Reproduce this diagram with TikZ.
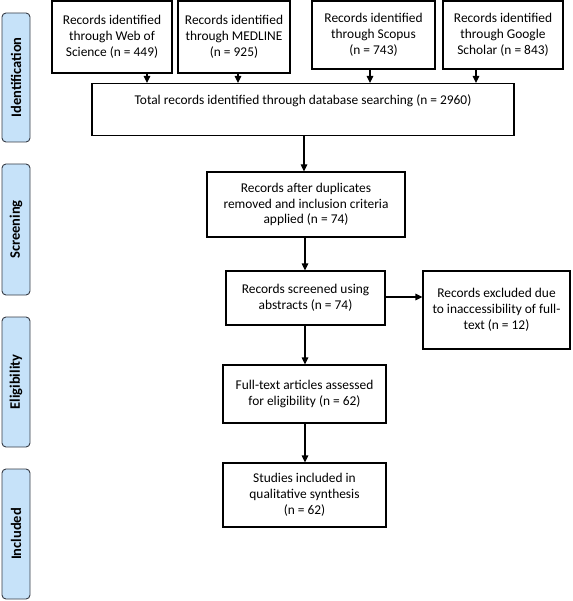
\documentclass[tikz,border=0pt]{standalone}
\usepackage{fontspec}
\setmainfont{Carlito}
\usetikzlibrary{arrows.meta}
\definecolor{phasefill}{RGB}{198,226,249}
\definecolor{phasedraw}{RGB}{55,60,70}
\tikzset{
  box/.style={draw=black, line width=1.2pt, align=center, inner sep=2pt,
    font=\fontsize{13.4pt}{15.8pt}\selectfont},
  phase/.style={draw=phasedraw, fill=phasefill, line width=0.9pt, rounded corners=4pt,
    minimum height=28pt, inner sep=0pt, rotate=90,
    font=\fontsize{14.5pt}{16pt}\selectfont\bfseries},
  arr/.style={line width=1.2pt, -{Triangle[length=7pt,width=6.5pt]}},
}
\begin{document}
\begin{tikzpicture}[x=1pt,y=-1pt]
\useasboundingbox (0,0) rectangle (572,601);
% phase labels
\node[phase, minimum width=129pt] (pid) at (16,77.5) {Identification};
\node[phase, minimum width=131pt] (psc) at (16,229.5) {Screening};
\node[phase, minimum width=130pt] (pel) at (16,382) {Eligibility};
\node[phase, minimum width=130pt] (pin) at (16,534) {Included};
% top boxes
\node[box, minimum width=120pt, minimum height=72pt] (b1) at (112,37) {Records identified\\through Web of\\Science (n = 449)};
\node[box, minimum width=112pt, minimum height=72pt] (b2) at (234,37) {Records identified\\through MEDLINE\\(n = 925)};
\node[box, minimum width=123pt, minimum height=68pt] (b3) at (373.5,35) {Records identified\\through Scopus\\(n = 743)};
\node[box, minimum width=120pt, minimum height=68pt] (b4) at (503,35) {Records identified\\through Google\\Scholar (n = 843)};
% total
\node[box, minimum width=422pt, anchor=north, inner ysep=0pt, text height=21pt, text depth=31pt] (total) at (303,83) {Total records identified through database searching (n = 2960)};
% flow
\node[box, minimum width=198pt, minimum height=65pt] (dup) at (306,204.5) {Records after duplicates\\removed and inclusion criteria\\applied (n = 74)};
\node[box, minimum width=159pt, minimum height=54pt] (scr) at (305.5,298) {Records screened using\\abstracts (n = 74)};
\node[box, minimum width=147pt, minimum height=78pt] (exc) at (496.5,310) {Records excluded due\\to inaccessibility of full-\\text (n = 12)};
\node[box, minimum width=163pt, minimum height=58pt] (full) at (304.5,394) {Full-text articles assessed\\for eligibility (n = 62)};
\node[box, minimum width=163pt, minimum height=64pt] (inc) at (304.5,495) {Studies included in\\qualitative synthesis\\(n = 62)};
% arrow columns
\coordinate (c1) at (147,0);
\coordinate (c2) at (238,0);
\coordinate (c3) at (370,0);
\coordinate (c4) at (476,0);
\coordinate (c5) at (304,0);
\coordinate (c6) at (305,0);
\coordinate (r1) at (0,297);
\draw[arr] (b1.south -| c1) -- (total.north -| c1);
\draw[arr] (b2.south -| c2) -- (total.north -| c2);
\draw[arr] (b3.south -| c3) -- (total.north -| c3);
\draw[arr] (b4.south -| c4) -- (total.north -| c4);
\draw[arr] (total.south -| c5) -- (dup.north -| c5);
\draw[arr] (dup.south -| c6) -- (scr.north -| c6);
\draw[arr] (scr.east |- r1) -- (exc.west |- r1);
\draw[arr] (scr.south -| c6) -- (full.north -| c6);
\draw[arr] (full.south -| c6) -- (inc.north -| c6);
\end{tikzpicture}
\end{document}
